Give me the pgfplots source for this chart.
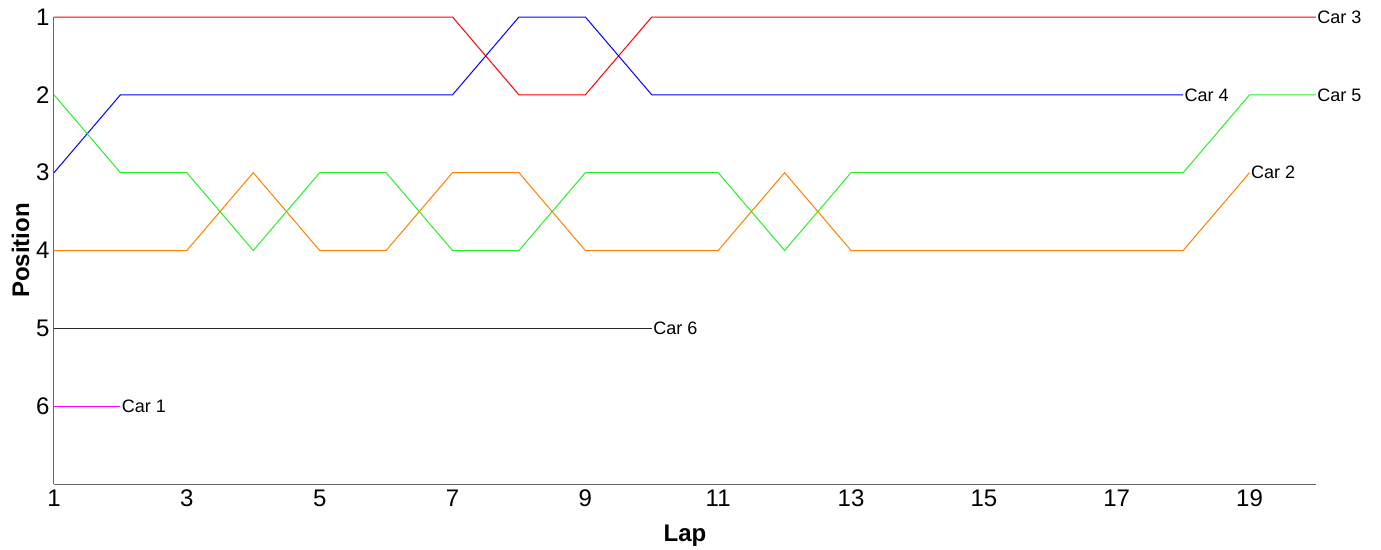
\documentclass[border=0pt]{standalone}
\usepackage{pgfplots}
\pgfplotsset{compat=1.18}
\usepackage{fontspec}
\setmainfont{Liberation Sans}
\definecolor{cred}{RGB}{255,0,0}
\definecolor{cblue}{RGB}{0,0,255}
\definecolor{cgreen}{RGB}{40,240,40}
\definecolor{corange}{RGB}{255,128,0}
\definecolor{cblack}{RGB}{40,40,40}
\definecolor{cmag}{RGB}{255,0,255}
\tikzset{carlab/.style={font=\fontsize{18bp}{20bp}\selectfont, anchor=west, inner sep=1bp, text=black}}
\begin{document}
\begin{tikzpicture}
\path[use as bounding box] (-54bp,-66bp) rectangle (1327bp,484bp);
\begin{axis}[
  at={(0,0)}, anchor=south west,
  scale only axis,
  width=1262bp, height=467bp,
  xmin=1, xmax=20, ymin=1, ymax=7,
  y dir=reverse,
  xtick={1,3,...,19},
  ytick={1,2,3,4,5,6},
  axis x line=bottom, axis y line=left,
  axis line style={-, draw=black!60, line width=1bp},
  major tick length=0pt,
  clip=false,
  /pgf/number format/assume math mode=true,
  tick label style={font=\fontsize{24bp}{28bp}\selectfont},
  xticklabel style={yshift=-2bp},
  yticklabel style={xshift=-1bp},
  label style={font=\fontsize{24bp}{28bp}\selectfont\bfseries},
  xlabel={Lap}, ylabel={Position},
  xlabel style={yshift=-12bp},
  ylabel style={yshift=0bp},
  every axis plot/.append style={line width=1bp},
]
\addplot[cred] coordinates {(1,1)(2,1)(3,1)(4,1)(5,1)(6,1)(7,1)(8,2)(9,2)(10,1)(11,1)(12,1)(13,1)(14,1)(15,1)(16,1)(17,1)(18,1)(19,1)(20,1)} node[carlab] {Car 3};
\addplot[cblue] coordinates {(1,3)(2,2)(3,2)(4,2)(5,2)(6,2)(7,2)(8,1)(9,1)(10,2)(11,2)(12,2)(13,2)(14,2)(15,2)(16,2)(17,2)(18,2)} node[carlab] {Car 4};
\addplot[cgreen] coordinates {(1,2)(2,3)(3,3)(4,4)(5,3)(6,3)(7,4)(8,4)(9,3)(10,3)(11,3)(12,4)(13,3)(14,3)(15,3)(16,3)(17,3)(18,3)(19,2)(20,2)} node[carlab] {Car 5};
\addplot[corange] coordinates {(1,4)(2,4)(3,4)(4,3)(5,4)(6,4)(7,3)(8,3)(9,4)(10,4)(11,4)(12,3)(13,4)(14,4)(15,4)(16,4)(17,4)(18,4)(19,3)} node[carlab] {Car 2};
\addplot[cblack] coordinates {(1,5)(2,5)(3,5)(4,5)(5,5)(6,5)(7,5)(8,5)(9,5)(10,5)} node[carlab] {Car 6};
\addplot[cmag] coordinates {(1,6)(2,6)} node[carlab] {Car 1};
\end{axis}
\end{tikzpicture}
\end{document}
